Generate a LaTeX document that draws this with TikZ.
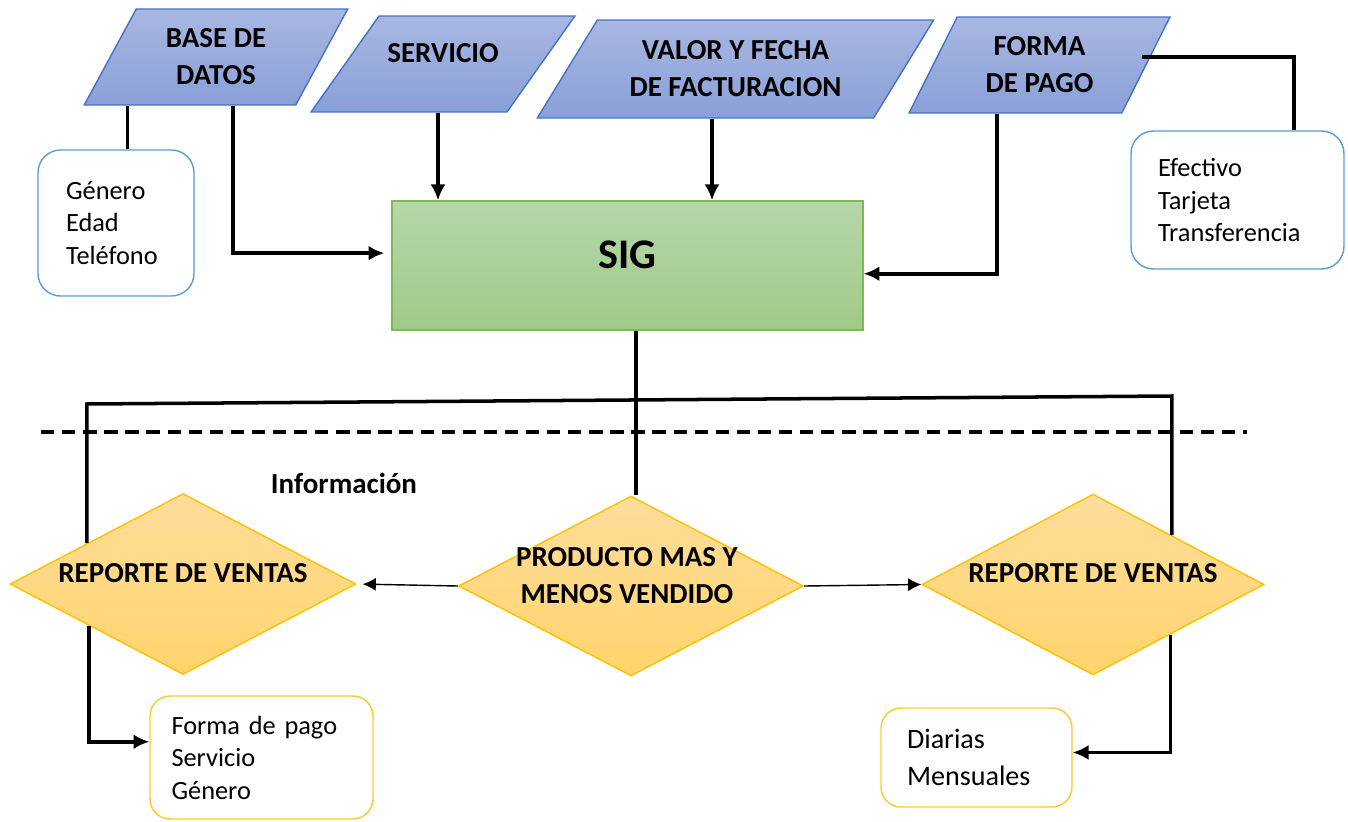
\documentclass[tikz,border=0pt]{standalone}
\usepackage{fontspec}
\setmainfont{Carlito}
\usetikzlibrary{shapes.geometric,arrows.meta}

\definecolor{inblue}{RGB}{68,114,196}
\definecolor{intop}{RGB}{169,183,226}
\definecolor{inbot}{RGB}{137,160,215}
\definecolor{sigtop}{RGB}{182,215,169}
\definecolor{sigbot}{RGB}{159,202,135}
\definecolor{sigline}{RGB}{125,185,85}
\definecolor{reptop}{RGB}{255,221,155}
\definecolor{repbot}{RGB}{255,212,108}
\definecolor{repline}{RGB}{255,192,0}
\definecolor{boxblue}{RGB}{91,155,213}
\definecolor{boxyel}{RGB}{255,200,40}

\tikzset{
  entrada/.style={trapezium, trapezium stretches=true, draw=inblue, line width=0.8pt,
    top color=intop, bottom color=inbot, inner sep=2pt, align=center,
    font=\fontsize{16.5}{21}\selectfont\bfseries},
  sistema/.style={rectangle, draw=sigline, line width=0.8pt, top color=sigtop, bottom color=sigbot},
  decision/.style={diamond, draw=repline, line width=0.8pt, top color=reptop, bottom color=repbot, inner sep=2pt},
  rotulo/.style={font=\fontsize{16.5}{21}\selectfont\bfseries, align=center},
  lista/.style={rectangle, rounded corners=0.45cm, line width=0.8pt, fill=white, align=left,
    inner ysep=0pt, font=\fontsize{15}{18.5}\selectfont},
  link/.style={line width=2pt},
  flecha/.style={line width=2pt, -{Latex[length=9pt,width=8.5pt]}},
  flechafina/.style={line width=0.8pt, -{Latex[length=7.5pt,width=7.5pt]}},
  divisor/.style={line width=2.4pt, dash pattern=on 7.6pt off 4.4pt}
}

\begin{document}
\begin{tikzpicture}[x=0.02cm, y=-0.02cm]
\useasboundingbox (0,0) rectangle (1348,821);

% entradas
\node[entrada, trapezium left angle=61, trapezium right angle=119,
  minimum width=5.28cm, minimum height=1.92cm] (base) at (216,57) {BASE DE\\DATOS};
\node[entrada, trapezium left angle=62, trapezium right angle=118,
  minimum width=5.28cm, minimum height=1.92cm,
  label={[rotulo, yshift=6pt]center:SERVICIO}] (serv) at (443,64) {};
\node[entrada, trapezium left angle=53, trapezium right angle=127,
  minimum width=7.94cm, minimum height=1.96cm] (valor) at (735.5,69) {VALOR Y FECHA\\DE FACTURACION};
\node[entrada, trapezium left angle=62, trapezium right angle=118,
  minimum width=5.22cm, minimum height=1.92cm] (forma) at (1039.5,65) {FORMA\\DE PAGO};

% detalles de las entradas
\node[lista, draw=boxblue, minimum width=3.12cm, minimum height=2.92cm,
  text width=2cm, inner xsep=0.56cm] (genero) at (116,223) {Género\\Edad\\Teléfono};
\node[lista, draw=boxblue, minimum width=4.26cm, minimum height=2.76cm,
  text width=3.18cm, inner xsep=0.54cm] (efec) at (1237.5,200) {Efectivo\\Tarjeta\\Transferencia};

% sistema
\node[sistema, minimum width=9.42cm, minimum height=2.58cm,
  label={[font=\fontsize{24}{28}\selectfont\bfseries, yshift=6pt]center:SIG}] (sig) at (627.5,265.5) {};

% salidas
\node[decision, minimum width=6.92cm, minimum height=3.62cm,
  label={[rotulo, yshift=6.2pt]center:REPORTE DE VENTAS}] (rep1) at (183,584) {};
\node[decision, minimum width=6.9cm, minimum height=3.6cm,
  label={[rotulo, yshift=6pt, xshift=-2.3pt]center:PRODUCTO MAS Y\\MENOS VENDIDO}] (prod) at (631,586) {};
\node[decision, minimum width=6.84cm, minimum height=3.62cm,
  label={[rotulo, yshift=6.5pt]center:REPORTE DE VENTAS}] (rep2) at (1093,584.5) {};

\node[lista, draw=boxyel, rounded corners=0.4cm, minimum width=4.46cm, minimum height=2.46cm,
  text width=3.6cm, inner xsep=0.43cm] (fpbox) at (261.5,757.5) {Forma de pago\\Servicio\\Género};
\node[lista, draw=boxyel, rounded corners=0.4cm, minimum width=3.82cm, minimum height=1.98cm,
  text width=2.78cm, inner xsep=0.52cm, font=\fontsize{16}{21.5}\selectfont] (dbox) at (976.5,757.5) {Diarias\\Mensuales};

\node[rotulo] (info) at (344,483) {Información};

\coordinate (fpout) at (1142,57);

\draw[divisor] (41,432) -- (1247,432);

% conectores
\draw[link] (genero.81 |- base.south) -- (genero.81);
\draw[flecha, shorten >=4pt] (233,0 |- base.south) |- (sig.177);
\draw[flecha] (438,0 |- serv.south) -- (438,0 |- sig.north);
\draw[flecha] (712,0 |- valor.south) -- (712,0 |- sig.north);
\draw[flecha] (997,0 |- forma.south) |- (sig.-2.3);
\draw[link] (fpout) -| (efec.51);

\draw[link] (636,0 |- sig.south) -- (636,0 |- prod.north);
\draw[link] (rep1.157) -- (rep1.157 |- 0,404) -- (rep2.32 |- 0,396) -- (rep2.32);

\draw[flechafina, shorten >=3.4pt] (prod.west) -- (rep1.east);
\draw[flechafina] (prod.east) -- (rep2.west);

\draw[flecha] (rep1.204) |- (fpbox.172);
\draw[flecha] (rep2.-33) |- (dbox.3);

\end{tikzpicture}
\end{document}
